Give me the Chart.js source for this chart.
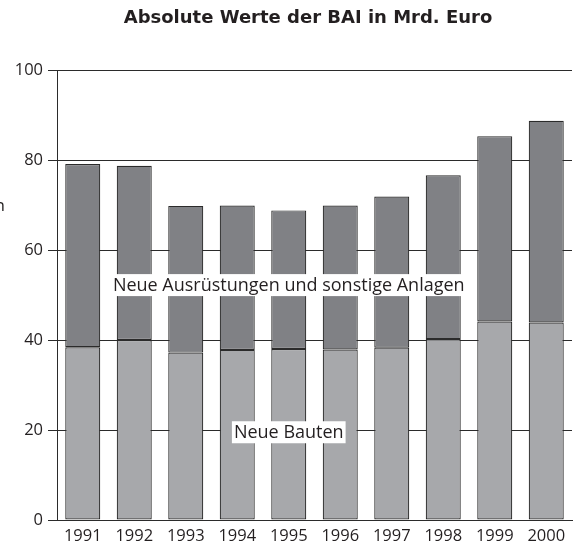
<!DOCTYPE html>
<html>
<head>
<meta charset="utf-8">
<script src="https://cdn.jsdelivr.net/npm/chart.js@4/dist/chart.umd.min.js"></script>
<style>
  html, body { margin: 0; padding: 0; background: #fff; }
  #wrap { width: 574px; height: 551px; }
</style>
</head>
<body>
<div id="wrap"><canvas id="baiChart"></canvas></div>
<script>
// Absolute Werte der BAI in Mrd. Euro
const years = ["1991", "1992", "1993", "1994", "1995", "1996", "1997", "1998", "1999", "2000"];
const neueBauten = [38.4, 40.0, 37.2, 37.8, 38.0, 37.9, 38.3, 40.2, 44.1, 43.9];
const neueAusruestungen = [40.7, 38.7, 32.6, 32.1, 30.8, 32.0, 33.6, 36.4, 41.2, 44.8];
const yTicks = [0, 20, 40, 60, 80, 100];

const fontFamily = "'Open Sans', 'DejaVu Sans', sans-serif";
const textColor = "#231f20";

// Titel + Beschriftungen mit weißem Hintergrund
const labelPlugin = {
  id: "labelPlugin",
  afterDraw(chart) {
    const ctx = chart.ctx;
    const x = chart.scales.x;
    const y = chart.scales.y;
    ctx.save();
    ctx.fillStyle = textColor;
    ctx.font = "bold 18px 'DejaVu Sans', sans-serif";
    ctx.textAlign = "center";
    ctx.textBaseline = "middle";
    ctx.fillText("Absolute Werte der BAI in Mrd. Euro", 308, 18);

    ctx.font = "17px " + fontFamily;
    ctx.textAlign = "right";
    ctx.fillText("in", 5, 206);

    const boxes = [
      { text: "Neue Ausrüstungen und sonstige Anlagen", idx: 4, val: 52.2 },
      { text: "Neue Bauten", idx: 4, val: 19.5 },
    ];
    ctx.font = "18px " + fontFamily;
    ctx.textAlign = "center";
    boxes.forEach((b) => {
      const cx = x.getPixelForValue(b.idx);
      const cy = y.getPixelForValue(b.val);
      const w = ctx.measureText(b.text).width + 4;
      ctx.fillStyle = "#fff";
      ctx.fillRect(cx - w / 2, cy - 11, w, 22);
      ctx.fillStyle = textColor;
      ctx.fillText(b.text, cx, cy + 1);
    });
    ctx.restore();
  },
};

const data = {
  labels: years,
  datasets: [
    {
      label: "Neue Bauten",
      data: neueBauten,
      backgroundColor: "#a7a8ab",
      borderColor: "#2b2b2b",
      borderWidth: 1.2,
      borderSkipped: false,
    },
    {
      label: "Neue Ausrüstungen und sonstige Anlagen",
      data: neueAusruestungen,
      backgroundColor: "#808185",
      borderColor: "#2b2b2b",
      borderWidth: 1.2,
      borderSkipped: false,
    },
  ],
};

const config = {
  type: "bar",
  data: data,
  options: {
    responsive: true,
    maintainAspectRatio: false,
    animation: false,
    categoryPercentage: 1,
    barPercentage: 0.68,
    layout: { padding: { top: 70, right: 2, left: 0, bottom: 0 } },
    plugins: {
      legend: { display: false },
      title: { display: false },
      tooltip: { enabled: false },
    },
    scales: {
      x: {
        stacked: true,
        grid: { display: true, drawOnChartArea: false, drawTicks: false },
        border: { display: true, color: "#2b2b2b", width: 1 },
        ticks: { color: textColor, font: { family: fontFamily, size: 16.5 }, padding: 6 },
        afterFit(scale) { scale.height = 31; },
      },
      y: {
        stacked: true,
        min: 0,
        max: 100,
        afterBuildTicks(scale) { scale.ticks = yTicks.map((v) => ({ value: v })); },
        grid: { color: "#2b2b2b", lineWidth: 1, tickLength: 9 },
        border: { display: true, color: "#2b2b2b", width: 1 },
        ticks: { color: textColor, font: { family: fontFamily, size: 16.5 }, padding: 5 },
        afterFit(scale) { scale.width = 57; },
      },
    },
  },
  plugins: [labelPlugin],
};

const baiChart = new Chart(document.querySelector("#baiChart"), config);
</script>
</body>
</html>
